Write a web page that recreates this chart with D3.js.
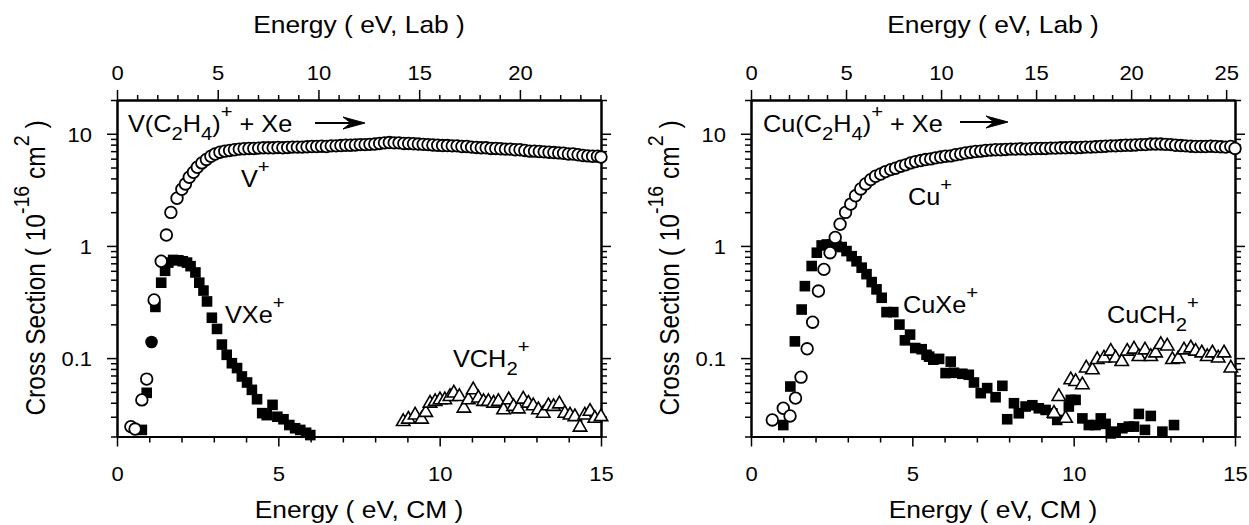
<!DOCTYPE html>
<html>
<head>
<meta charset="utf-8">
<script src="https://cdn.jsdelivr.net/npm/d3@7.9.0/dist/d3.min.js"></script>
<style>
  body { margin: 0; background: #fff; }
  svg text { font-family: "Liberation Sans", Arial, Helvetica, sans-serif; fill: #000; white-space: pre; }
</style>
</head>
<body>
<div id="chart"></div>
<script>
// ---- data (energy in eV CM, cross section in 1e-16 cm^2) ----

// V(C2H4)+ + Xe
const vPlus = [
  [0.43, 0.0245], [0.56, 0.0233], [0.77, 0.0424], [0.92, 0.065], [1.15, 0.33], [1.37, 0.73],
  [1.53, 1.25], [1.67, 1.99], [1.86, 2.66], [2.01, 3.2], [2.12, 3.57], [2.24, 4.1], [2.37, 4.54],
  [2.49, 5.03], [2.63, 5.5], [2.77, 5.9], [2.91, 6.3], [3.04, 6.6], [3.19, 6.85], [3.34, 7.0],
  [3.49, 7.1], [3.64, 7.2], [3.79, 7.3], [3.94, 7.35], [4.09, 7.4], [4.24, 7.4], [4.39, 7.45],
  [4.54, 7.5], [4.69, 7.5], [4.84, 7.5], [4.99, 7.55], [5.14, 7.5], [5.29, 7.55], [5.44, 7.6],
  [5.59, 7.6], [5.74, 7.6], [5.89, 7.65], [6.04, 7.7], [6.19, 7.7], [6.34, 7.75], [6.49, 7.7],
  [6.64, 7.8], [6.79, 7.8], [6.94, 7.85], [7.09, 7.9], [7.24, 7.9], [7.39, 7.95], [7.54, 8.0],
  [7.69, 8.0], [7.84, 8.05], [7.99, 8.1], [8.14, 8.2], [8.29, 8.3], [8.44, 8.35], [8.59, 8.3],
  [8.74, 8.3], [8.89, 8.2], [9.04, 8.2], [9.19, 8.15], [9.34, 8.1], [9.49, 8.05], [9.64, 8.0],
  [9.79, 7.95], [9.94, 7.9], [10.09, 7.85], [10.24, 7.85], [10.39, 7.8], [10.54, 7.8], [10.69, 7.7],
  [10.84, 7.7], [10.99, 7.6], [11.14, 7.55], [11.29, 7.5], [11.44, 7.5], [11.59, 7.4], [11.74, 7.4],
  [11.89, 7.35], [12.04, 7.3], [12.19, 7.3], [12.34, 7.2], [12.49, 7.2], [12.64, 7.1], [12.79, 7.0],
  [12.94, 7.0], [13.09, 6.95], [13.24, 6.9], [13.39, 6.85], [13.54, 6.8], [13.69, 6.75], [13.84, 6.7],
  [13.99, 6.6], [14.14, 6.6], [14.29, 6.5], [14.44, 6.4], [14.59, 6.35], [14.74, 6.3], [14.89, 6.3],
  [15.0, 6.2]
];
const vXe = [
  [0.77, 0.0229], [0.92, 0.049], [1.19, 0.286], [1.37, 0.47], [1.49, 0.60], [1.59, 0.71], [1.74, 0.75],
  [1.90, 0.745], [2.04, 0.73], [2.17, 0.71], [2.28, 0.66], [2.43, 0.58], [2.55, 0.47], [2.68, 0.40],
  [2.79, 0.32], [2.94, 0.229], [3.10, 0.182], [3.25, 0.132], [3.40, 0.107], [3.56, 0.090],
  [3.72, 0.0815], [3.87, 0.0686], [4.03, 0.0606], [4.18, 0.0521], [4.34, 0.043], [4.50, 0.0323],
  [4.64, 0.031], [4.82, 0.0383], [4.97, 0.030], [5.16, 0.0285], [5.34, 0.0253], [5.52, 0.0237],
  [5.68, 0.0229], [5.86, 0.0216], [5.99, 0.0206]
];
const vSolid = [[1.07, 0.139]];
const vCH2 = [
  [8.87, 0.0271], [9.03, 0.0285], [9.24, 0.031], [9.44, 0.0285], [9.57, 0.0327], [9.70, 0.0396],
  [9.86, 0.041], [10.01, 0.0424], [10.16, 0.0424], [10.32, 0.0454], [10.44, 0.0487], [10.61, 0.0454],
  [10.75, 0.0357], [10.89, 0.0424], [11.04, 0.0521], [11.20, 0.044], [11.36, 0.041], [11.51, 0.041],
  [11.67, 0.0396], [11.82, 0.041], [11.98, 0.0345], [12.14, 0.0424], [12.29, 0.037], [12.44, 0.0352],
  [12.59, 0.043], [12.75, 0.0396], [12.90, 0.0375], [13.06, 0.0345], [13.21, 0.0322], [13.37, 0.0375],
  [13.53, 0.037], [13.71, 0.039], [13.88, 0.0322], [14.04, 0.031], [14.19, 0.030], [14.35, 0.0242],
  [14.50, 0.031], [14.66, 0.0335], [14.81, 0.029], [15.0, 0.030]
];

// Cu(C2H4)+ + Xe
const cuPlus = [
  [0.66, 0.0281], [1.00, 0.0357], [1.21, 0.0305], [1.38, 0.044], [1.55, 0.0676], [1.74, 0.121],
  [1.91, 0.209], [2.09, 0.396], [2.26, 0.618], [2.45, 0.87], [2.61, 1.19], [2.76, 1.56], [2.93, 1.99],
  [3.09, 2.36], [3.24, 2.80], [3.40, 3.22], [3.55, 3.57], [3.71, 3.9], [3.86, 4.18], [4.02, 4.38],
  [4.17, 4.6], [4.33, 4.79], [4.48, 4.93], [4.64, 5.14], [4.79, 5.28], [4.95, 5.5], [5.10, 5.65],
  [5.26, 5.77], [5.41, 5.89], [5.57, 5.97], [5.72, 6.1], [5.88, 6.2], [6.03, 6.3], [6.19, 6.35],
  [6.34, 6.5], [6.50, 6.6], [6.65, 6.75], [6.81, 6.85], [6.96, 6.95], [7.12, 7.0], [7.27, 7.1],
  [7.43, 7.15], [7.58, 7.2], [7.74, 7.2], [7.89, 7.25], [8.05, 7.3], [8.20, 7.3], [8.36, 7.35],
  [8.51, 7.3], [8.67, 7.35], [8.82, 7.4], [8.98, 7.4], [9.13, 7.4], [9.29, 7.45], [9.44, 7.45],
  [9.60, 7.5], [9.75, 7.5], [9.91, 7.55], [10.06, 7.5], [10.22, 7.55], [10.37, 7.6], [10.53, 7.6],
  [10.68, 7.65], [10.84, 7.7], [10.99, 7.75], [11.15, 7.8], [11.30, 7.8], [11.46, 7.85], [11.61, 7.9],
  [11.77, 7.9], [11.92, 7.95], [12.08, 8.0], [12.23, 8.0], [12.39, 8.1], [12.54, 8.1], [12.70, 8.1],
  [12.85, 8.05], [13.01, 8.0], [13.16, 7.9], [13.32, 7.85], [13.47, 7.8], [13.63, 7.75], [13.78, 7.7],
  [13.94, 7.7], [14.09, 7.7], [14.25, 7.75], [14.40, 7.7], [14.56, 7.65], [14.71, 7.6], [14.87, 7.7],
  [15.0, 7.4]
];
const cuXe = [
  [1.00, 0.0253], [1.22, 0.0558], [1.36, 0.141], [1.57, 0.271], [1.67, 0.438], [1.88, 0.662],
  [2.04, 0.87], [2.19, 1.01], [2.35, 1.03], [2.50, 1.03], [2.65, 1.0], [2.81, 0.977], [2.96, 0.90],
  [3.12, 0.81], [3.27, 0.73], [3.43, 0.64], [3.58, 0.56], [3.74, 0.476], [3.89, 0.41], [4.05, 0.345],
  [4.20, 0.257], [4.41, 0.257], [4.60, 0.199], [4.77, 0.144], [4.93, 0.162], [5.09, 0.123],
  [5.29, 0.12], [5.44, 0.107], [5.52, 0.103], [5.65, 0.0968], [5.83, 0.0984], [6.03, 0.0735],
  [6.19, 0.093], [6.29, 0.074], [6.55, 0.0725], [6.75, 0.071], [6.91, 0.0606], [7.12, 0.0487],
  [7.32, 0.054], [7.58, 0.0448], [7.79, 0.0566], [7.94, 0.0285], [8.15, 0.0396], [8.30, 0.0322],
  [8.51, 0.037], [8.72, 0.038], [8.92, 0.0357], [9.13, 0.0345], [9.34, 0.0322], [9.49, 0.0281],
  [9.85, 0.037], [9.91, 0.0424], [10.06, 0.0424], [10.27, 0.029], [10.47, 0.0253], [10.68, 0.0253],
  [10.84, 0.029], [10.99, 0.0259], [11.15, 0.0213], [11.30, 0.0221], [11.51, 0.0237], [11.71, 0.0245],
  [11.87, 0.0245], [12.02, 0.0318], [12.21, 0.0229], [12.39, 0.0305], [12.75, 0.0221], [13.11, 0.0253]
];
const cuCH2 = [
  [9.39, 0.0322], [9.54, 0.0454], [9.75, 0.029], [9.91, 0.064], [10.06, 0.0617], [10.27, 0.0578],
  [10.39, 0.0815], [10.58, 0.0785], [10.73, 0.0968], [10.94, 0.100], [11.15, 0.115], [11.30, 0.100],
  [11.49, 0.093], [11.66, 0.115], [11.87, 0.120], [12.02, 0.103], [12.21, 0.118], [12.39, 0.103],
  [12.54, 0.111], [12.70, 0.132], [12.90, 0.128], [13.06, 0.0968], [13.24, 0.0984], [13.42, 0.118],
  [13.63, 0.123], [13.78, 0.115], [13.97, 0.111], [14.14, 0.103], [14.30, 0.111], [14.48, 0.100],
  [14.66, 0.111], [14.87, 0.0815]
];

// axis ticks
const cmMajor = [0, 5, 10, 15];
const cmMinor = [1, 2, 3, 4, 6, 7, 8, 9, 11, 12, 13, 14];
const labMajorV = [0, 5, 10, 15, 20];
const labMinorV = [1, 2, 3, 4, 6, 7, 8, 9, 11, 12, 13, 14, 16, 17, 18, 19, 21, 22, 23, 24];
const labMajorCu = [0, 5, 10, 15, 20, 25];
const labMinorCu = [1, 2, 3, 4, 6, 7, 8, 9, 11, 12, 13, 14, 16, 17, 18, 19, 21, 22, 23, 24];
const logMajor = [0.1, 1, 10];
const logMinor = [0.02, 0.03, 0.04, 0.05, 0.06, 0.07, 0.08, 0.09, 0.2, 0.3, 0.4, 0.5, 0.6, 0.7, 0.8, 0.9,
  2, 3, 4, 5, 6, 7, 8, 9, 20];

// lab / CM conversion factors, (m_ion + m_Xe) / m_Xe
const labFactorV = 1.6017;
const labFactorCu = 1.6977;


// ---- layout ----
const width = 1249;
const height = 525;
const plotTop = 100;
const plotBottom = 436.5;
const plotW = 484;
const STRETCH = 1.1; // the scanned lettering is a bit wide

const svg = d3.select('#chart')
  .append('svg')
  .attr('width', width)
  .attr('height', height);


/*
 * Text with sub/superscript pieces.
 * segs: array of [string, kind], kind is '', 'sub' or 'sup'
 */
function richText(parent, segs, size, scriptScale = 0.8) {
  const t = parent.append('text').style('font-size', size + 'px');
  let cur = 0;
  segs.forEach(([str, kind]) => {
    const off = kind === 'sub' ? size * 0.35 : kind === 'sup' ? -size * 0.6 : 0;
    t.append('tspan')
      .attr('dy', off - cur)
      .style('font-size', (kind ? size * scriptScale : size) + 'px')
      .text(str);
    cur = off;
  });
  return t;
}

function label(parent, x, y, segs, size, anchor = 'start') {
  richText(parent, segs, size)
    .attr('text-anchor', anchor)
    .attr('transform', `translate(${x},${y}) scale(${STRETCH},1)`);
}

function styleAxis(g) {
  g.select('.domain').attr('stroke', '#000').attr('stroke-width', 2);
  g.selectAll('.tick line').attr('stroke', '#000').attr('stroke-width', 1.5);
}

function tickText(g, dx, dy, anchor) {
  g.selectAll('.tick text')
    .attr('x', null).attr('y', null).attr('dy', null)
    .attr('fill', '#000')
    .attr('text-anchor', anchor)
    .attr('transform', `translate(${dx},${dy}) scale(${STRETCH},1)`)
    .style('font-size', '20px')
    .style('font-family', '"Liberation Sans", Arial, sans-serif');
}


/*
 * Draws one panel: frame, four axes, markers and labels
 */
function renderPanel(cfg) {
  const x = d3.scaleLinear().domain([0, 15]).range([cfg.left, cfg.left + plotW]);
  const y = d3.scaleLog().domain([0.02, 20]).range([plotBottom, plotTop]);
  const xLab = d3.scaleLinear().domain([0, 15 * cfg.labFactor]).range(x.range());

  const g = svg.append('g');

  // bottom axis (CM)
  const gb = g.append('g').attr('transform', `translate(0,${plotBottom})`)
    .call(d3.axisBottom(x).tickValues(cmMinor).tickSize(6).tickSizeOuter(0).tickFormat(''));
  styleAxis(gb);
  const gb2 = g.append('g').attr('transform', `translate(0,${plotBottom})`)
    .call(d3.axisBottom(x).tickValues(cmMajor).tickSize(10).tickSizeOuter(0).tickFormat(d3.format('d')));
  styleAxis(gb2);
  tickText(gb2, 0, 44, 'middle');

  // top axis (Lab)
  const gt = g.append('g').attr('transform', `translate(0,${plotTop})`)
    .call(d3.axisTop(xLab).tickValues(cfg.labMinor).tickSize(5).tickSizeOuter(0).tickFormat(''));
  styleAxis(gt);
  const gt2 = g.append('g').attr('transform', `translate(0,${plotTop})`)
    .call(d3.axisTop(xLab).tickValues(cfg.labMajor).tickSize(10).tickSizeOuter(0).tickFormat(d3.format('d')));
  styleAxis(gt2);
  tickText(gt2, 0, -20, 'middle');

  // left axis (log)
  const gl = g.append('g').attr('transform', `translate(${cfg.left},0)`)
    .call(d3.axisLeft(y).tickValues(logMinor).tickSize(6).tickSizeOuter(0).tickFormat(''));
  styleAxis(gl);
  const gl2 = g.append('g').attr('transform', `translate(${cfg.left},0)`)
    .call(d3.axisLeft(y).tickValues(logMajor).tickSize(10).tickSizeOuter(0).tickFormat(d3.format('~g')));
  styleAxis(gl2);
  tickText(gl2, -25, 7.5, 'end');

  // right axis
  const gr = g.append('g').attr('transform', `translate(${cfg.left + plotW},0)`)
    .call(d3.axisRight(y).tickValues(logMinor).tickSize(6).tickSizeOuter(0).tickFormat(''));
  styleAxis(gr);
  const gr2 = g.append('g').attr('transform', `translate(${cfg.left + plotW},0)`)
    .call(d3.axisRight(y).tickValues(logMajor).tickSize(10).tickSizeOuter(0).tickFormat(''));
  styleAxis(gr2);

  // axis titles
  const midX = cfg.left + plotW / 2;
  label(g, midX, 33, [['Energy ( eV, Lab )', '']], 24, 'middle');
  label(g, midX, 518, [['Energy ( eV, CM )', '']], 24, 'middle');
  richText(g, [['Cross Section ( 10', ''], ['-16', 'sup'], [' cm', ''], ['2', 'sup'], [' )', '']], 24.5)
    .attr('text-anchor', 'middle')
    .attr('transform', `translate(${cfg.left - 72},268) scale(${STRETCH},1) rotate(-90)`);

  // markers: squares, then open circles, then triangles
  g.selectAll('.sq')
    .data(cfg.squares)
    .join('rect')
    .attr('class', 'sq')
    .attr('x', d => x(d[0]) - 5.3)
    .attr('y', d => y(d[1]) - 5.3)
    .attr('width', 10.6)
    .attr('height', 10.6)
    .attr('fill', '#000');

  g.selectAll('.dot')
    .data(cfg.circles)
    .join('circle')
    .attr('class', 'dot')
    .attr('cx', d => x(d[0]))
    .attr('cy', d => y(d[1]))
    .attr('r', 5.8)
    .attr('fill', '#fff')
    .attr('stroke', '#000')
    .attr('stroke-width', 1.8);

  g.selectAll('.solid')
    .data(cfg.solid)
    .join('circle')
    .attr('class', 'solid')
    .attr('cx', d => x(d[0]))
    .attr('cy', d => y(d[1]))
    .attr('r', 6.3)
    .attr('fill', '#000');

  const tri = d3.symbol().type(d3.symbolTriangle).size(78);
  g.selectAll('.tri')
    .data(cfg.triangles)
    .join('path')
    .attr('class', 'tri')
    .attr('d', tri)
    .attr('transform', d => `translate(${x(d[0])},${y(d[1])})`)
    .attr('fill', '#fff')
    .attr('stroke', '#000')
    .attr('stroke-width', 1.6);

  // reaction label and arrow
  label(g, cfg.reaction.x, 132, cfg.reaction.segs, 23);
  const a = cfg.arrow;
  g.append('line')
    .attr('x1', a.x0).attr('x2', a.x1 - 8)
    .attr('y1', a.y).attr('y2', a.y)
    .attr('stroke', '#000').attr('stroke-width', 1.8);
  g.append('path')
    .attr('d', `M${a.x1},${a.y} L${a.x1 - 22},${a.y - 6} L${a.x1 - 14},${a.y} L${a.x1 - 22},${a.y + 6} Z`)
    .attr('fill', '#000')
    .attr('stroke', '#000')
    .attr('stroke-width', 1);

  // product labels
  cfg.labels.forEach(l => label(g, l.x, l.y, l.segs, 23));
}


renderPanel({
  left: 117,
  labFactor: labFactorV,
  labMajor: labMajorV,
  labMinor: labMinorV,
  circles: vPlus,
  squares: vXe,
  solid: vSolid,
  triangles: vCH2,
  reaction: { x: 128, segs: [['V(C', ''], ['2', 'sub'], ['H', ''], ['4', 'sub'], [')', ''], ['+', 'sup'], [' + Xe', '']] },
  arrow: { x0: 315, x1: 365, y: 123 },
  labels: [
    { x: 241, y: 187, segs: [['V', ''], ['+', 'sup']] },
    { x: 225, y: 323, segs: [['VXe', ''], ['+', 'sup']] },
    { x: 453, y: 367, segs: [['VCH', ''], ['2', 'sub'], ['+', 'sup']] }
  ]
});

renderPanel({
  left: 751,
  labFactor: labFactorCu,
  labMajor: labMajorCu,
  labMinor: labMinorCu,
  circles: cuPlus,
  squares: cuXe,
  solid: [],
  triangles: cuCH2,
  reaction: { x: 763, segs: [['Cu(C', ''], ['2', 'sub'], ['H', ''], ['4', 'sub'], [')', ''], ['+', 'sup'], [' + Xe', '']] },
  arrow: { x0: 960, x1: 1008, y: 122 },
  labels: [
    { x: 908, y: 205, segs: [['Cu', ''], ['+', 'sup']] },
    { x: 903, y: 313, segs: [['CuXe', ''], ['+', 'sup']] },
    { x: 1107, y: 323, segs: [['CuCH', ''], ['2', 'sub'], ['+', 'sup']] }
  ]
});
</script>
</body>
</html>
